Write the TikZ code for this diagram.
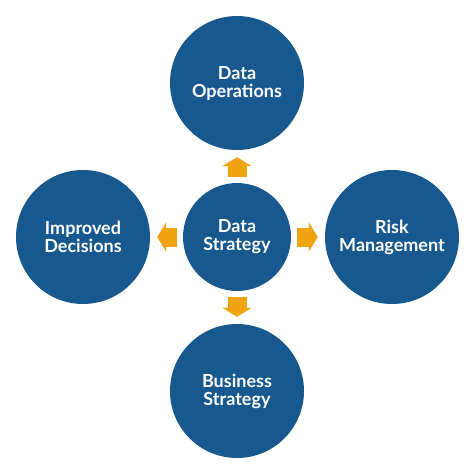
\documentclass[tikz,border=0pt]{standalone}
\usepackage{fontspec}
\setmainfont{Lato}
\usetikzlibrary{arrows.meta}
\definecolor{dsblue}{HTML}{17598F}
\definecolor{dsorange}{HTML}{EFA30E}

\begin{document}
\begin{tikzpicture}[x=1pt, y=-1pt, font=\fontsize{18}{18}\selectfont\bfseries,
    bubble/.style={circle, fill=dsblue, text=white, align=center, inner sep=0pt, minimum size=134pt},
    pointer/.style={draw=dsorange, line width=19pt, -{Triangle[width=29pt, length=9pt]}, shorten <=6pt, shorten >=7pt}]

    % Fix the page to the reference size
    \useasboundingbox (0,0) rectangle (474,474);

    % Central circle
    \node[bubble, minimum size=108pt] (strategy) at (237,237) {Data\\Strategy};

    % Outer circles around the centre
    \foreach \name/\x/\y/\label in {operations/237/83/{Data\\Operations}, risk/392/237/{Risk\\Management}, business/237/391/{Business\\Strategy}, decisions/83/237/{Improved\\Decisions}} {
        \node[bubble] (\name) at (\x,\y) {\label};
    }

    % Orange arrows from the centre outwards
    \foreach \name in {operations, risk, business, decisions} {
        \draw[pointer] (strategy) -- (\name);
    }
\end{tikzpicture}
\end{document}
